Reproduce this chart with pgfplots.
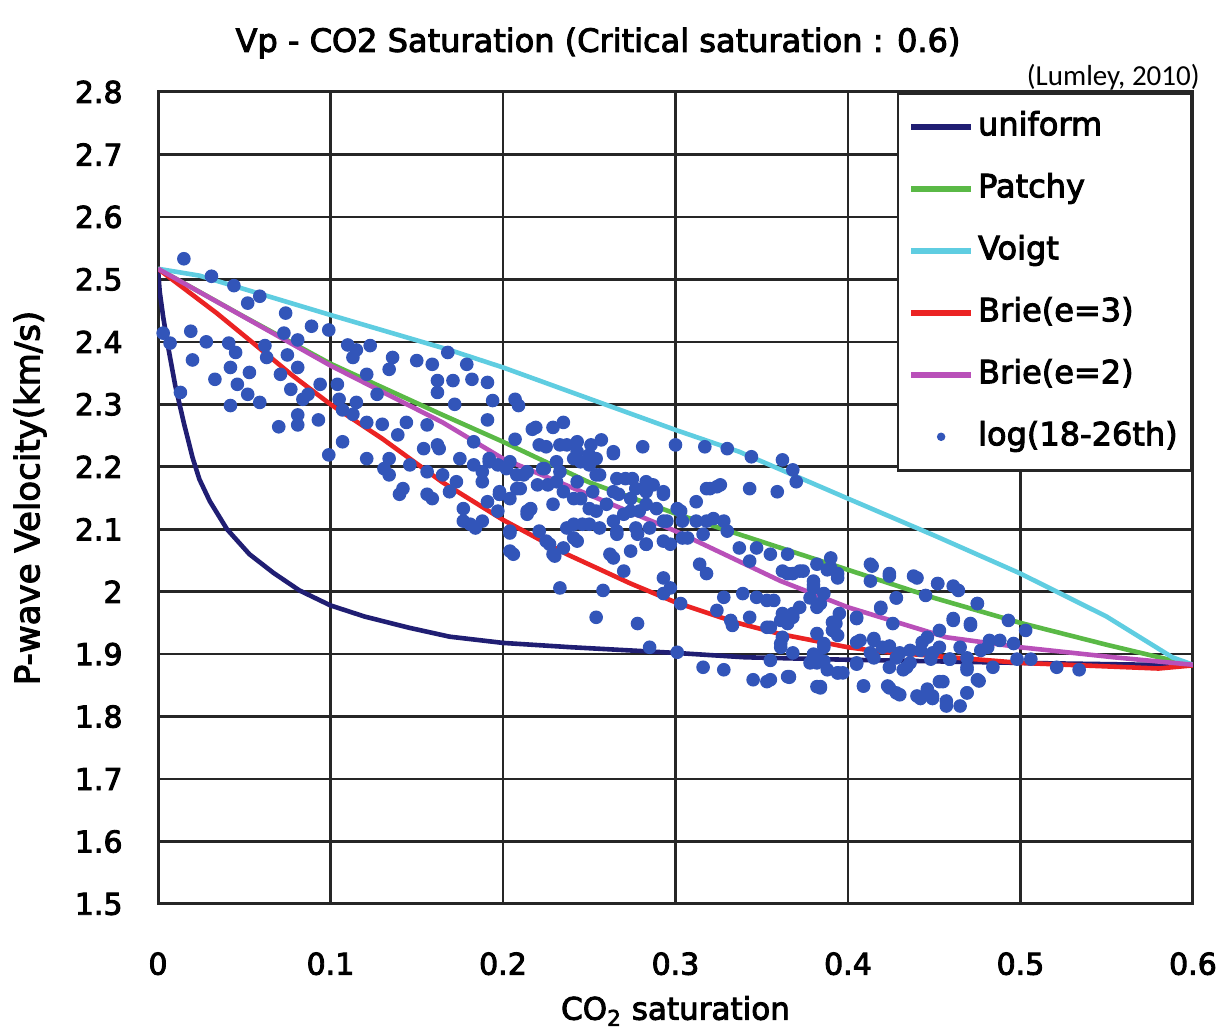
\documentclass[border=0pt]{standalone}
\usepackage{fontspec}
\setmainfont{DejaVu Sans}[FakeBold=3]
\newfontfamily\carlito{Carlito}
\usepackage{pgfplots}
\pgfplotsset{compat=1.18}
\usepackage{pgfplotstable}
\definecolor{cnavy}{RGB}{32,30,115}
\definecolor{cgreen}{RGB}{90,185,70}
\definecolor{ccyan}{RGB}{95,205,225}
\definecolor{cred}{RGB}{235,35,35}
\definecolor{cmag}{RGB}{185,80,185}
\definecolor{dotblue}{RGB}{50,85,185}
\pgfplotsset{scatleg/.style={legend image code/.code={\draw[##1, mark size=1.8bp] plot coordinates {(15bp,0bp)};}}}

\pgfplotstableread{
x y
0 2.517
0.001 2.48
0.003 2.44
0.006 2.39
0.010 2.33
0.015 2.27
0.020 2.215
0.024 2.18
0.030 2.145
0.040 2.100
0.053 2.060
0.067 2.030
0.082 2.002
0.100 1.978
0.120 1.960
0.146 1.942
0.169 1.928
0.200 1.918
0.240 1.911
0.300 1.902
0.340 1.895
0.400 1.891
0.500 1.886
0.600 1.882
}\uniform

\pgfplotstableread{
x y
0 2.517
0.05 2.44
0.1 2.365
0.165 2.283
0.2 2.240
0.25 2.175
0.3 2.125
0.35 2.08
0.4 2.035
0.45 1.99
0.5 1.95
0.55 1.915
0.6 1.882
}\patchy

\pgfplotstableread{
x y
0 2.517
0.024 2.506
0.1 2.443
0.169 2.387
0.2 2.359
0.256 2.303
0.3 2.259
0.337 2.224
0.4 2.149
0.45 2.09
0.5 2.029
0.55 1.96
0.588 1.895
0.6 1.883
}\voigt

\pgfplotstableread{
x y
0 2.517
0.034 2.446
0.053 2.403
0.078 2.346
0.1 2.300
0.13 2.245
0.165 2.175
0.2 2.115
0.237 2.06
0.274 2.013
0.3 1.983
0.336 1.950
0.361 1.932
0.4 1.911
0.419 1.904
0.5 1.886
0.58 1.877
0.6 1.882
}\brieA

\pgfplotstableread{
x y
0 2.517
0.053 2.435
0.1 2.362
0.165 2.271
0.2 2.213
0.3 2.097
0.361 2.017
0.4 1.975
0.457 1.927
0.5 1.911
0.554 1.895
0.6 1.883
}\brieB

\pgfplotstableread{
x y
0.015 2.533
0.031 2.505
0.044 2.490
0.059 2.473
0.052 2.462
0.074 2.446
0.089 2.425
0.099 2.419
0.073 2.414
0.019 2.417
0.007 2.398
0.028 2.400
0.041 2.398
0.081 2.403
0.062 2.394
0.045 2.383
0.020 2.371
0.063 2.375
0.075 2.379
0.042 2.359
0.053 2.351
0.071 2.348
0.033 2.340
0.046 2.332
0.081 2.359
0.104 2.332
0.013 2.319
0.052 2.316
0.077 2.324
0.087 2.316
0.094 2.332
0.042 2.298
0.059 2.303
0.084 2.308
0.110 2.395
0.115 2.387
0.123 2.394
0.113 2.375
0.121 2.348
0.136 2.375
0.134 2.356
0.150 2.370
0.159 2.364
0.162 2.338
0.162 2.319
0.168 2.383
0.105 2.308
0.115 2.303
0.127 2.316
0.081 2.283
0.070 2.264
0.081 2.267
0.093 2.275
0.107 2.291
0.113 2.284
0.121 2.271
0.130 2.268
0.107 2.240
0.099 2.219
0.121 2.213
0.139 2.251
0.144 2.271
0.156 2.267
0.162 2.235
0.134 2.213
0.146 2.203
0.134 2.187
0.156 2.192
0.165 2.187
0.003 2.414
0.179 2.364
0.171 2.338
0.182 2.340
0.191 2.335
0.172 2.300
0.194 2.306
0.207 2.308
0.209 2.298
0.191 2.275
0.219 2.263
0.229 2.263
0.235 2.271
0.207 2.244
0.257 2.243
0.264 2.221
0.281 2.232
0.300 2.235
0.317 2.232
0.330 2.229
0.324 2.168
0.318 2.165
0.225 2.232
0.243 2.240
0.251 2.235
0.254 2.213
0.237 2.235
0.243 2.224
0.344 2.216
0.362 2.211
0.368 2.195
0.370 2.176
0.359 2.160
0.343 2.165
0.326 2.171
0.175 2.213
0.183 2.203
0.188 2.192
0.197 2.203
0.173 2.176
0.177 2.113
0.184 2.102
0.197 2.129
0.204 2.208
0.214 2.192
0.224 2.197
0.231 2.208
0.241 2.213
0.250 2.203
0.256 2.187
0.266 2.181
0.275 2.181
0.283 2.176
0.293 2.160
0.283 2.160
0.274 2.149
0.264 2.160
0.252 2.160
0.243 2.176
0.231 2.176
0.220 2.171
0.208 2.165
0.198 2.160
0.216 2.133
0.204 2.149
0.229 2.140
0.241 2.149
0.250 2.133
0.260 2.140
0.270 2.124
0.279 2.129
0.289 2.133
0.301 2.133
0.304 2.113
0.295 2.113
0.312 2.113
0.322 2.117
0.328 2.113
0.330 2.097
0.316 2.092
0.304 2.086
0.293 2.081
0.283 2.076
0.285 2.102
0.278 2.092
0.266 2.097
0.256 2.102
0.246 2.108
0.237 2.102
0.241 2.086
0.262 2.060
0.270 2.033
0.258 2.002
0.233 2.006
0.206 2.060
0.229 2.060
0.337 2.070
0.347 2.070
0.355 2.060
0.365 2.060
0.343 2.049
0.362 2.033
0.372 2.033
0.382 2.044
0.390 2.054
0.394 2.022
0.314 2.044
0.318 2.029
0.293 2.022
0.297 2.006
0.293 1.997
0.303 1.981
0.328 1.991
0.339 1.997
0.347 1.991
0.357 1.986
0.324 1.970
0.332 1.954
0.343 1.959
0.362 1.965
0.372 1.975
0.380 2.006
0.386 1.997
0.395 1.965
0.355 1.943
0.362 1.927
0.382 1.933
0.386 1.911
0.382 1.886
0.388 1.875
0.397 1.870
0.382 1.848
0.361 1.917
0.254 1.959
0.278 1.949
0.285 1.911
0.301 1.903
0.316 1.879
0.328 1.875
0.345 1.859
0.353 1.856
0.365 1.864
0.204 2.094
0.214 2.129
0.225 2.081
0.230 2.057
0.264 2.054
0.333 1.946
0.365 2.029
0.388 2.035
0.380 2.011
0.414 2.041
0.413 2.017
0.424 2.025
0.438 2.025
0.452 2.013
0.461 2.009
0.428 1.990
0.445 1.994
0.475 1.981
0.419 1.973
0.461 1.957
0.471 1.946
0.493 1.954
0.503 1.938
0.368 1.965
0.365 1.949
0.384 1.981
0.391 1.951
0.405 1.957
0.394 1.930
0.405 1.919
0.415 1.925
0.424 1.913
0.428 1.894
0.436 1.906
0.443 1.919
0.453 1.911
0.448 1.892
0.459 1.892
0.469 1.894
0.481 1.911
0.488 1.922
0.496 1.917
0.498 1.892
0.506 1.892
0.521 1.879
0.534 1.875
0.380 1.900
0.386 1.889
0.405 1.884
0.415 1.894
0.424 1.879
0.434 1.879
0.469 1.879
0.484 1.879
0.366 1.863
0.384 1.846
0.394 1.870
0.409 1.849
0.424 1.846
0.430 1.835
0.442 1.829
0.449 1.833
0.455 1.856
0.457 1.817
0.465 1.817
0.469 1.838
0.476 1.857
0.217 2.260
0.131 2.197
0.142 2.165
0.140 2.156
0.156 2.156
0.159 2.149
0.169 2.160
0.177 2.133
0.181 2.108
0.188 2.176
0.198 2.156
0.208 2.187
0.214 2.124
0.204 2.097
0.221 2.097
0.188 2.113
0.154 2.229
0.163 2.229
0.183 2.240
0.192 2.213
0.221 2.235
0.233 2.235
0.264 2.224
0.192 2.208
0.202 2.197
0.212 2.187
0.223 2.197
0.233 2.192
0.245 2.208
0.250 2.219
0.254 2.187
0.226 2.171
0.235 2.160
0.210 2.165
0.198 2.156
0.191 2.144
0.216 2.132
0.245 2.149
0.254 2.129
0.267 2.156
0.271 2.181
0.277 2.165
0.287 2.171
0.293 2.156
0.283 2.140
0.274 2.129
0.264 2.113
0.250 2.108
0.241 2.108
0.243 2.081
0.235 2.070
0.266 2.092
0.277 2.102
0.293 2.113
0.303 2.129
0.312 2.144
0.320 2.165
0.318 2.113
0.307 2.086
0.297 2.076
0.283 2.076
0.274 2.065
0.204 2.065
0.227 2.076
0.353 1.986
0.361 1.954
0.368 1.959
0.353 1.943
0.380 2.017
0.368 2.029
0.374 2.033
0.378 1.990
0.382 1.975
0.393 1.949
0.391 1.938
0.386 1.917
0.382 1.895
0.378 1.886
0.368 1.902
0.361 1.911
0.355 1.890
0.355 1.859
0.366 1.864
0.384 1.848
0.394 1.870
0.405 1.959
0.407 1.922
0.415 1.922
0.420 1.911
0.413 1.902
0.405 1.886
0.409 1.849
0.423 1.849
0.428 1.838
0.419 1.975
0.428 1.990
0.426 1.949
0.430 1.902
0.436 1.886
0.432 1.875
0.442 1.906
0.449 1.902
0.453 1.938
0.446 1.927
0.440 1.833
0.446 1.844
0.453 1.856
0.449 1.829
0.457 1.825
0.459 1.892
0.465 1.911
0.461 1.954
0.471 1.949
0.475 1.981
0.477 1.906
0.482 1.922
0.469 1.875
0.475 1.859
0.469 1.838
0.464 2.002
0.452 2.013
0.440 2.022
0.424 2.029
0.413 2.044
0.394 2.029
0.390 2.038
}\logdata

\begin{document}
\begin{tikzpicture}
\fill[white] (0,0) rectangle (612.5bp,515.5bp);
\useasboundingbox (0,0) rectangle (612.5bp,515.5bp);
\node[font=\fontsize{16bp}{19bp}\selectfont] at (299bp,494bp) {Vp - CO2 Saturation (Critical saturation : 0.6)};
\node[anchor=east, inner sep=0pt, font=\carlito\fontsize{14.5bp}{17bp}\selectfont] at (600bp,477bp) {(Lumley, 2010)};
\begin{axis}[
  at={(79bp,63.5bp)}, anchor=south west,
  scale only axis, width=517.5bp, height=406bp,
  xmin=0, xmax=0.6, ymin=1.5, ymax=2.8,
  xtick={0,0.1,0.2,0.3,0.4,0.5,0.6},
  ytick={1.5,1.6,1.7,1.8,1.9,2,2.1,2.2,2.3,2.4,2.5,2.6,2.7,2.8},
  /pgf/number format/assume math mode=true,
  tick label style={font=\fontsize{15bp}{18bp}\selectfont},
  yticklabel style={inner sep=0pt, anchor=east, xshift=-17.5bp},
  xticklabel style={inner sep=0pt, anchor=north, yshift=-24bp},
  major tick length=0pt,
  grid=major,
  major grid style={black!85, line width=1.3bp},
  axis line style={black!85, line width=1.5bp},
  xlabel={CO\textsubscript{2} saturation},
  ylabel={P-wave Velocity(km/s)},
  xlabel style={font=\fontsize{15.5bp}{18bp}\selectfont, at={(axis description cs:0.5,-0.1318)}, anchor=center},
  ylabel style={font=\fontsize{17bp}{20bp}\selectfont, at={(axis description cs:-0.1237,0.5)}, anchor=center},
  legend cell align=left,
  legend style={at={(1,1)}, anchor=north east, draw=black!85, line width=1.3bp, fill=white,
    font=\fontsize{16bp}{19bp}\selectfont, row sep=11.5bp, inner xsep=5bp, inner ysep=7bp,
    nodes={inner sep=2bp, text height=12bp, text depth=3.5bp},
    /tikz/every even column/.append style={column sep=1bp}},
  legend image code/.code={\draw[#1, line width=3bp] (0bp,0bp) -- (30bp,0bp);},
]
\addplot[cnavy, line width=2.3bp] table {\uniform};
\addlegendentry{uniform}
\addplot[cgreen, line width=2.3bp] table {\patchy};
\addlegendentry{Patchy}
\addplot[ccyan, line width=2.3bp] table {\voigt};
\addlegendentry{Voigt}
\addplot[cred, line width=2.3bp] table {\brieA};
\addlegendentry{Brie(e=3)}
\addplot[cmag, line width=2.3bp] table {\brieB};
\addlegendentry{Brie(e=2)}
\addplot[only marks, mark=*, mark size=3.1bp, color=dotblue, mark options={line width=0.6bp}, scatleg] table {\logdata};
\addlegendentry{log(18-26th)}
\end{axis}
\end{tikzpicture}
\end{document}
